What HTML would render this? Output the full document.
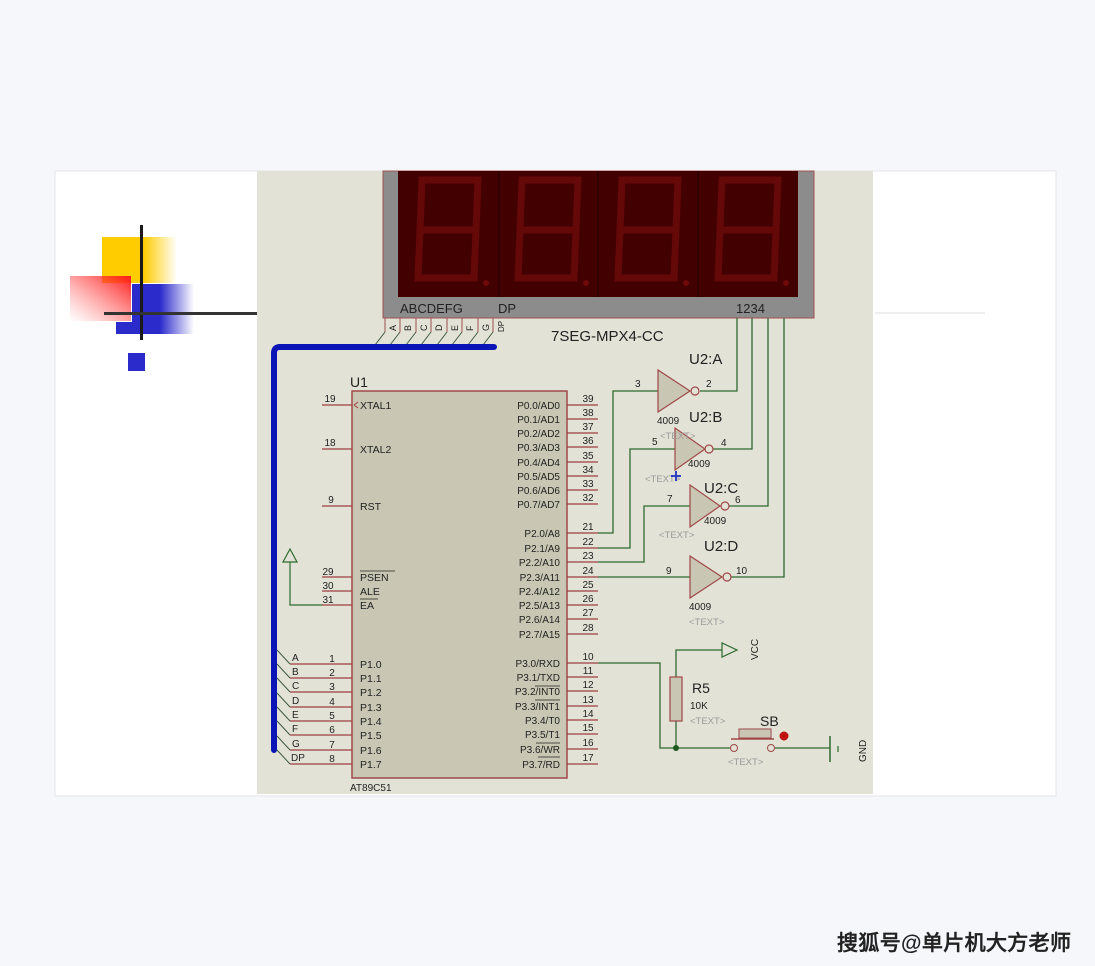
<!DOCTYPE html>
<html><head><meta charset="utf-8"><style>
html,body{margin:0;padding:0;background:#f6f7fb;}
svg{display:block;}
text{font-family:"Liberation Sans",sans-serif;}
</style></head><body>
<svg width="1095" height="966" viewBox="0 0 1095 966" xmlns="http://www.w3.org/2000/svg">
<defs>
<linearGradient id="gy" x1="0" x2="1"><stop offset="0.55" stop-color="#ffcc00"/><stop offset="1" stop-color="#ffcc00" stop-opacity="0"/></linearGradient>
<linearGradient id="gb" x1="0" x2="1"><stop offset="0.45" stop-color="#2b2bcc"/><stop offset="1" stop-color="#2b2bcc" stop-opacity="0"/></linearGradient>
<linearGradient id="gr" x1="1" y1="0" x2="0" y2="1"><stop offset="0" stop-color="#ff1a1a"/><stop offset="1" stop-color="#ff6a6a" stop-opacity="0"/></linearGradient>
</defs>
<rect x="0" y="0" width="1095" height="966" fill="#f6f7fb"/>
<rect x="55" y="171" width="1001" height="625" fill="#ffffff" stroke="#e6e6ea"/>
<!-- decoration -->
<rect x="102" y="237" width="75" height="46" fill="url(#gy)"/>
<rect x="132" y="284" width="62" height="50" fill="url(#gb)"/>
<rect x="116" y="322" width="25" height="12" fill="#2b2bcc"/>
<rect x="70" y="276" width="61" height="45" fill="url(#gr)"/>
<rect x="140" y="225" width="3" height="115" fill="#1a1a1a"/>
<rect x="104" y="312" width="153" height="3" fill="#333"/>
<rect x="128" y="353" width="17" height="18" fill="#2b2bcc"/>
<rect x="875" y="312" width="110" height="2" fill="#eeeeee"/>
<!-- schematic bg -->
<rect x="257" y="171" width="616" height="623" fill="#e2e2d6"/>
<!-- display -->
<rect x="383" y="171" width="431" height="147" fill="#8c8c8c" stroke="#a05050"/>
<rect x="398" y="171" width="400" height="126" fill="#420000"/>
<g stroke="#2a0000" stroke-width="1.5"><line x1="499" y1="171" x2="499" y2="297"/><line x1="598" y1="171" x2="598" y2="297"/><line x1="698" y1="171" x2="698" y2="297"/></g>
<g fill="none" stroke="#640808" stroke-width="7">
<g><path d="M422 180 L478 180 L476 230 L420 230 Z M420 230 L418 278 L474 278 L476 230"/></g>
<g transform="translate(100,0)"><path d="M422 180 L478 180 L476 230 L420 230 Z M420 230 L418 278 L474 278 L476 230"/></g>
<g transform="translate(200,0)"><path d="M422 180 L478 180 L476 230 L420 230 Z M420 230 L418 278 L474 278 L476 230"/></g>
<g transform="translate(300,0)"><path d="M422 180 L478 180 L476 230 L420 230 Z M420 230 L418 278 L474 278 L476 230"/></g>
</g>
<g fill="#6e0a0a"><circle cx="486" cy="283" r="3"/><circle cx="586" cy="283" r="3"/><circle cx="686" cy="283" r="3"/><circle cx="786" cy="283" r="3"/></g>
<text x="400" y="313" font-size="13" fill="#222">ABCDEFG</text>
<text x="498" y="313" font-size="13" fill="#222">DP</text>
<text x="736" y="313" font-size="13" fill="#222">1234</text>
<!-- display bottom pins -->
<g stroke="#a05050" stroke-width="1">
<line x1="385" y1="318" x2="385" y2="332"/><line x1="400" y1="318" x2="400" y2="332"/><line x1="416" y1="318" x2="416" y2="332"/><line x1="431" y1="318" x2="431" y2="332"/><line x1="447" y1="318" x2="447" y2="332"/><line x1="462" y1="318" x2="462" y2="332"/><line x1="478" y1="318" x2="478" y2="332"/><line x1="493" y1="318" x2="493" y2="332"/>
</g>
<g stroke="#3f5a3f" stroke-width="1">
<line x1="385" y1="332" x2="375" y2="345"/><line x1="400" y1="332" x2="390" y2="345"/><line x1="416" y1="332" x2="406" y2="345"/><line x1="431" y1="332" x2="421" y2="345"/><line x1="447" y1="332" x2="437" y2="345"/><line x1="462" y1="332" x2="452" y2="345"/><line x1="478" y1="332" x2="468" y2="345"/><line x1="493" y1="332" x2="483" y2="345"/>
</g>
<g font-size="9" fill="#222">
<text transform="translate(396,331) rotate(-90)">A</text><text transform="translate(411,331) rotate(-90)">B</text><text transform="translate(427,331) rotate(-90)">C</text><text transform="translate(442,331) rotate(-90)">D</text><text transform="translate(458,331) rotate(-90)">E</text><text transform="translate(473,331) rotate(-90)">F</text><text transform="translate(489,331) rotate(-90)">G</text><text transform="translate(504,332) rotate(-90)" font-size="8">DP</text>
</g>
<text x="551" y="341" font-size="15" fill="#222">7SEG-MPX4-CC</text>
<!-- bus -->
<path d="M494 347 L280 347 Q274 347 274 353 L274 750" fill="none" stroke="#0b14b4" stroke-width="6" stroke-linecap="round"/>
<!-- U1 -->
<text x="350" y="387" font-size="14" fill="#222">U1</text>
<rect x="352" y="391" width="215" height="387" fill="#c9c7b3" stroke="#a04848" stroke-width="1.5"/>
<text x="350" y="791" font-size="10" fill="#222">AT89C51</text>
<g stroke="#a04040" stroke-width="1.2">
<line x1="322" y1="405" x2="352" y2="405"/><line x1="322" y1="449" x2="352" y2="449"/><line x1="322" y1="506" x2="352" y2="506"/>
<line x1="322" y1="577" x2="352" y2="577"/><line x1="322" y1="591" x2="352" y2="591"/><line x1="322" y1="605" x2="352" y2="605"/>
<line x1="290" y1="664" x2="352" y2="664"/><line x1="290" y1="678" x2="352" y2="678"/><line x1="290" y1="692" x2="352" y2="692"/><line x1="290" y1="707" x2="352" y2="707"/><line x1="290" y1="721" x2="352" y2="721"/><line x1="290" y1="735" x2="352" y2="735"/><line x1="290" y1="750" x2="352" y2="750"/><line x1="290" y1="764" x2="352" y2="764"/>
<line x1="567" y1="405" x2="598" y2="405"/><line x1="567" y1="419" x2="598" y2="419"/><line x1="567" y1="433" x2="598" y2="433"/><line x1="567" y1="447" x2="598" y2="447"/><line x1="567" y1="462" x2="598" y2="462"/><line x1="567" y1="476" x2="598" y2="476"/><line x1="567" y1="490" x2="598" y2="490"/><line x1="567" y1="504" x2="598" y2="504"/>
<line x1="567" y1="533" x2="598" y2="533"/><line x1="567" y1="548" x2="598" y2="548"/><line x1="567" y1="562" x2="598" y2="562"/><line x1="567" y1="577" x2="598" y2="577"/><line x1="567" y1="591" x2="598" y2="591"/><line x1="567" y1="605" x2="598" y2="605"/><line x1="567" y1="619" x2="598" y2="619"/><line x1="567" y1="634" x2="598" y2="634"/>
<line x1="567" y1="663" x2="598" y2="663"/><line x1="567" y1="677" x2="598" y2="677"/><line x1="567" y1="691" x2="598" y2="691"/><line x1="567" y1="706" x2="598" y2="706"/><line x1="567" y1="720" x2="598" y2="720"/><line x1="567" y1="734" x2="598" y2="734"/><line x1="567" y1="749" x2="598" y2="749"/><line x1="567" y1="764" x2="598" y2="764"/>
</g>
<!-- left pin numbers -->
<g font-size="10" fill="#222" text-anchor="middle">
<text x="330" y="402">19</text><text x="330" y="446">18</text><text x="331" y="503">9</text>
<text x="328" y="575">29</text><text x="328" y="589">30</text><text x="328" y="603">31</text>
<text x="332" y="662">1</text><text x="332" y="676">2</text><text x="332" y="690">3</text><text x="332" y="705">4</text><text x="332" y="719">5</text><text x="332" y="733">6</text><text x="332" y="748">7</text><text x="332" y="762">8</text>
</g>
<g font-size="10" fill="#222">
<text x="292" y="661">A</text><text x="292" y="675">B</text><text x="292" y="689">C</text><text x="292" y="704">D</text><text x="292" y="718">E</text><text x="292" y="732">F</text><text x="292" y="747">G</text><text x="291" y="761">DP</text>
</g>
<g stroke="#3f5a3f" stroke-width="1">
<line x1="277" y1="650" x2="290" y2="664"/><line x1="277" y1="664" x2="290" y2="678"/><line x1="277" y1="678" x2="290" y2="692"/><line x1="277" y1="693" x2="290" y2="707"/><line x1="277" y1="707" x2="290" y2="721"/><line x1="277" y1="721" x2="290" y2="735"/><line x1="277" y1="736" x2="290" y2="750"/><line x1="277" y1="750" x2="290" y2="764"/>
</g>
<g font-size="10.5" fill="#222">
<text x="360" y="409">XTAL1</text><text x="360" y="453">XTAL2</text><text x="360" y="510">RST</text>
<text x="360" y="581">PSEN</text><text x="360" y="595">ALE</text><text x="360" y="609">EA</text>
<text x="360" y="668">P1.0</text><text x="360" y="682">P1.1</text><text x="360" y="696">P1.2</text><text x="360" y="711">P1.3</text><text x="360" y="725">P1.4</text><text x="360" y="739">P1.5</text><text x="360" y="754">P1.6</text><text x="360" y="768">P1.7</text>
</g>
<g stroke="#222" stroke-width="0.8"><line x1="360" y1="571" x2="395" y2="571"/><line x1="360" y1="599" x2="378" y2="599"/></g>
<path d="M354 405 L358 402 M354 405 L358 408" stroke="#a04040" fill="none"/>
<g font-size="10" fill="#222" text-anchor="end">
<text x="560" y="409">P0.0/AD0</text><text x="560" y="423">P0.1/AD1</text><text x="560" y="437">P0.2/AD2</text><text x="560" y="451">P0.3/AD3</text><text x="560" y="466">P0.4/AD4</text><text x="560" y="480">P0.5/AD5</text><text x="560" y="494">P0.6/AD6</text><text x="560" y="508">P0.7/AD7</text>
<text x="560" y="537">P2.0/A8</text><text x="560" y="552">P2.1/A9</text><text x="560" y="566">P2.2/A10</text><text x="560" y="581">P2.3/A11</text><text x="560" y="595">P2.4/A12</text><text x="560" y="609">P2.5/A13</text><text x="560" y="623">P2.6/A14</text><text x="560" y="638">P2.7/A15</text>
<text x="560" y="667">P3.0/RXD</text><text x="560" y="681">P3.1/TXD</text><text x="560" y="695">P3.2/INT0</text><text x="560" y="710">P3.3/INT1</text><text x="560" y="724">P3.4/T0</text><text x="560" y="738">P3.5/T1</text><text x="560" y="753">P3.6/WR</text><text x="560" y="768">P3.7/RD</text>
</g>
<g stroke="#222" stroke-width="0.8"><line x1="535" y1="686" x2="560" y2="686"/><line x1="535" y1="700" x2="560" y2="700"/><line x1="536" y1="743" x2="560" y2="743"/><line x1="538" y1="757" x2="560" y2="757"/></g>
<g font-size="10" fill="#222" text-anchor="middle">
<text x="588" y="402">39</text><text x="588" y="416">38</text><text x="588" y="430">37</text><text x="588" y="444">36</text><text x="588" y="459">35</text><text x="588" y="473">34</text><text x="588" y="487">33</text><text x="588" y="501">32</text>
<text x="588" y="530">21</text><text x="588" y="545">22</text><text x="588" y="559">23</text><text x="588" y="574">24</text><text x="588" y="588">25</text><text x="588" y="602">26</text><text x="588" y="616">27</text><text x="588" y="631">28</text>
<text x="588" y="660">10</text><text x="588" y="674">11</text><text x="588" y="688">12</text><text x="588" y="703">13</text><text x="588" y="717">14</text><text x="588" y="731">15</text><text x="588" y="746">16</text><text x="588" y="761">17</text>
</g>
<!-- EA arrow -->
<g stroke="#2e6a2e" fill="none" stroke-width="1.2">
<path d="M290 562 L290 605 L322 605"/>
<path d="M283 562 L297 562 L290 549 Z"/>
</g>
<!-- green wires -->
<g stroke="#2e6a2e" fill="none" stroke-width="1.3">
<path d="M598 533 L613 533 L613 391 L658 391"/>
<path d="M598 548 L630 548 L630 449 L675 449"/>
<path d="M598 562 L644 562 L644 506 L690 506"/>
<path d="M598 577 L690 577"/>
<path d="M700 391 L737 391 L737 318"/>
<path d="M710 449 L752 449 L752 318"/>
<path d="M725 506 L768 506 L768 318"/>
<path d="M727 577 L784 577 L784 318"/>
<path d="M598 663 L660 663 L660 748 L730 748"/>
<path d="M676 748 L676 721 M676 677 L676 650 L722 650"/>
<path d="M775 748 L830 748"/>
</g>
<!-- inverters -->
<g fill="#c9c7b3" stroke="#a04848" stroke-width="1.2">
<path d="M658 370 L658 412 L690 391 Z"/><circle cx="695" cy="391" r="4" fill="#e2e2d6"/>
<path d="M675 428 L675 470 L705 449 Z"/><circle cx="709" cy="449" r="4" fill="#e2e2d6"/>
<path d="M690 485 L690 527 L720 506 Z"/><circle cx="725" cy="506" r="4" fill="#e2e2d6"/>
<path d="M690 556 L690 598 L722 577 Z"/><circle cx="727" cy="577" r="4" fill="#e2e2d6"/>
</g>
<g font-size="10" fill="#222">
<text x="635" y="387">3</text><text x="706" y="387">2</text>
<text x="652" y="445">5</text><text x="721" y="446">4</text>
<text x="667" y="502">7</text><text x="735" y="503">6</text>
<text x="666" y="574">9</text><text x="736" y="574">10</text>
<text x="657" y="424">4009</text><text x="688" y="467">4009</text><text x="704" y="524">4009</text><text x="689" y="610">4009</text>
</g>
<g font-size="15" fill="#222">
<text x="689" y="364">U2:A</text><text x="689" y="422">U2:B</text><text x="704" y="493">U2:C</text><text x="704" y="551">U2:D</text>
</g>
<g font-size="9.5" fill="#9a9a9a">
<text x="660" y="439">&lt;TEXT&gt;</text><text x="645" y="482">&lt;TEXT&gt;</text><text x="659" y="538">&lt;TEXT&gt;</text><text x="689" y="625">&lt;TEXT&gt;</text><text x="690" y="724">&lt;TEXT&gt;</text><text x="728" y="765">&lt;TEXT&gt;</text>
</g>
<path d="M676 471 L676 481 M671 476 L681 476" stroke="#3040c0" stroke-width="2"/>
<!-- VCC -->
<path d="M722 643 L722 657 L737 650 Z" fill="none" stroke="#2e6a2e" stroke-width="1.2"/>
<text transform="translate(758,660) rotate(-90)" font-size="10" fill="#222">VCC</text>
<!-- R5 -->
<rect x="670" y="677" width="12" height="44" fill="#c9c7b3" stroke="#a04848" stroke-width="1.2"/>
<text x="692" y="693" font-size="14" fill="#222">R5</text>
<text x="690" y="709" font-size="10" fill="#222">10K</text>
<circle cx="676" cy="748" r="3" fill="#1f5a1f"/>
<!-- switch -->
<text x="760" y="726" font-size="14" fill="#222">SB</text>
<rect x="739" y="729" width="32" height="9" fill="#c9c7b3" stroke="#a04848"/>
<line x1="731" y1="739" x2="774" y2="739" stroke="#a04848" stroke-width="1.5"/>
<circle cx="734" cy="748" r="3.5" fill="#e2e2d6" stroke="#a04848"/>
<circle cx="771" cy="748" r="3.5" fill="#e2e2d6" stroke="#a04848"/>
<circle cx="784" cy="736" r="4.5" fill="#c01010"/>
<!-- GND -->
<line x1="830" y1="736" x2="830" y2="762" stroke="#2e6a2e" stroke-width="1.5"/>
<line x1="838" y1="746" x2="838" y2="752" stroke="#2e6a2e" stroke-width="1.2"/>
<text transform="translate(866,762) rotate(-90)" font-size="10" fill="#222">GND</text>
<!-- watermark -->
<text x="837" y="950" font-size="21" font-weight="bold" fill="#222" textLength="234" font-family="'Liberation Sans','Noto Sans CJK SC',sans-serif">搜狐号@单片机大方老师</text>
</svg>
</body></html>
